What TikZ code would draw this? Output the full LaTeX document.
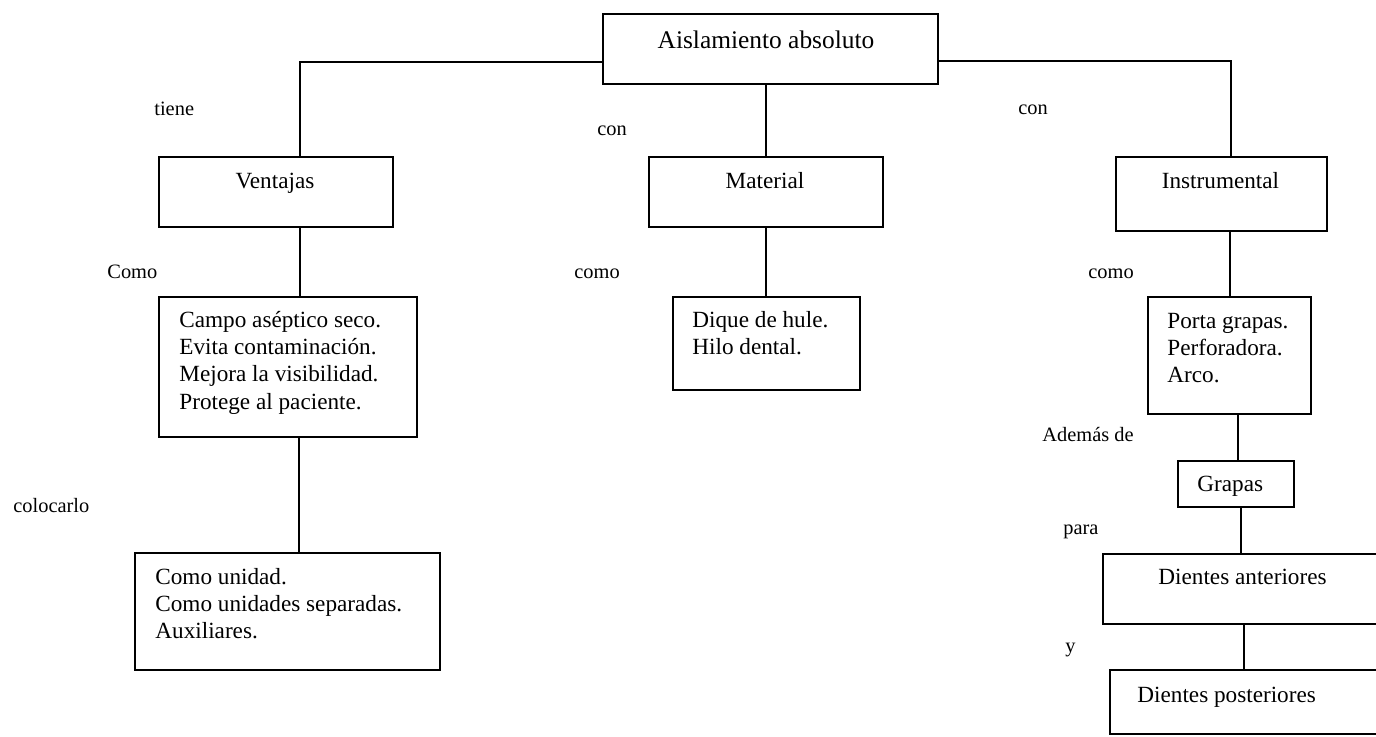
\documentclass[tikz,border=0pt]{standalone}
\usepackage{fontspec}
\setmainfont{Liberation Serif}
\begin{document}
\begin{tikzpicture}[x=0.5pt,y=-0.5pt,
		caja/.style={draw,line width=0.9pt,anchor=north west,inner sep=0pt},
		linea/.style={line width=0.9pt},
		texto/.style={anchor=base west,inner sep=0pt,align=flush left,text width=160pt,font=\fontsize{11.6}{13.7}\selectfont},
		centro/.style={anchor=base,inner sep=0pt,font=\fontsize{11.6}{13.7}\selectfont},
		etiqueta/.style={anchor=base west,inner sep=0pt,font=\fontsize{10.2}{12}\selectfont}]
		\useasboundingbox (0,0) rectangle (1376,736);
		
		% 顶部的方框
		\node[caja,minimum width=167.5pt,minimum height=35pt] (raiz) at (602,13) {};
		\node[centro,font=\fontsize{12.7}{15}\selectfont] (t-raiz) at (766,48) {Aislamiento absoluto};
		
		% 第二层的三个方框
		\node[caja,minimum width=117pt,minimum height=35pt] (ventajas) at (158,156) {};
		\node[centro] (t-ventajas) at (275,188) {Ventajas};
		\node[caja,minimum width=117pt,minimum height=35pt] (material) at (648,156) {};
		\node[centro] (t-material) at (765,188) {Material};
		\node[caja,minimum width=105.5pt,minimum height=37pt] (instrumental) at (1115,156) {};
		\node[centro] (t-instrumental) at (1220.5,188) {Instrumental};
		
		% 左列
		\node[caja,minimum width=129pt,minimum height=70pt] (campo) at (158,296) {};
		\node[texto] (t-campo) at (179,327) {Campo aséptico seco.\\Evita contaminación.\\Mejora la visibilidad.\\Protege al paciente.};
		\node[caja,minimum width=152.5pt,minimum height=58.5pt] (unidad) at (134,552) {};
		\node[texto] (t-unidad) at (155,584) {Como unidad.\\Como unidades separadas.\\Auxiliares.};
		
		% 中列
		\node[caja,minimum width=93.5pt,minimum height=46.5pt] (dique) at (672,296) {};
		\node[texto] (t-dique) at (692,327) {Dique de hule.\\Hilo dental.};
		
		% 右列
		\node[caja,minimum width=81.5pt,minimum height=58.5pt] (porta) at (1147,296) {};
		\node[texto] (t-porta) at (1167,328) {Porta grapas.\\Perforadora.\\Arco.};
		\node[caja,minimum width=58pt,minimum height=23pt] (grapas) at (1177,460) {};
		\node[texto] (t-grapas) at (1197,491) {Grapas};
		\node[caja,minimum width=140.5pt,minimum height=35pt] (anteriores) at (1102,553) {};
		\node[centro] (t-anteriores) at (1242.5,584) {Dientes anteriores};
		\node[caja,minimum width=138pt,minimum height=32pt] (posteriores) at (1109,669) {};
		\node[texto] (t-posteriores) at (1137,702) {Dientes posteriores};
		
		% 连线
		\draw[linea] ([yshift=-6.5pt]raiz.west) -| ([xshift=12pt]ventajas.north);
		\draw[linea] ([yshift=-6pt]raiz.east) -| ([xshift=4.75pt]instrumental.north);
		\draw[linea] (material.north |- raiz.south) -- (material.north);
		\draw[linea] ([xshift=12pt]ventajas.south) -- ([xshift=12pt]ventajas.south |- campo.north);
		\draw[linea] ([xshift=5.5pt]campo.south) -- ([xshift=5.5pt]campo.south |- unidad.north);
		\draw[linea] (material.south) -- (material.south |- dique.north);
		\draw[linea] ([xshift=4.25pt]instrumental.south) -- ([xshift=4.25pt]instrumental.south |- porta.north);
		\draw[linea] ([xshift=4.25pt]porta.south) -- ([xshift=4.25pt]porta.south |- grapas.north);
		\draw[linea] ([xshift=2.5pt]grapas.south) -- ([xshift=2.5pt]grapas.south |- anteriores.north);
		\draw[linea] ([xshift=0.25pt]anteriores.south) -- ([xshift=0.25pt]anteriores.south |- posteriores.north);
		
		% 连线旁的文字
		\node[etiqueta] (e-tiene) at (154,115) {tiene};
		\node[etiqueta] (e-con1) at (597,135) {con};
		\node[etiqueta] (e-con2) at (1018,114) {con};
		\node[etiqueta] (e-como1) at (107,278) {Como};
		\node[etiqueta] (e-como2) at (574,278) {como};
		\node[etiqueta] (e-como3) at (1088,278) {como};
		\node[etiqueta] (e-colocarlo) at (13,512) {colocarlo};
		\node[etiqueta] (e-ademas) at (1042,441) {Además de};
		\node[etiqueta] (e-para) at (1063,534) {para};
		\node[etiqueta] (e-y) at (1065,652) {y};
	\end{tikzpicture}
\end{document}
